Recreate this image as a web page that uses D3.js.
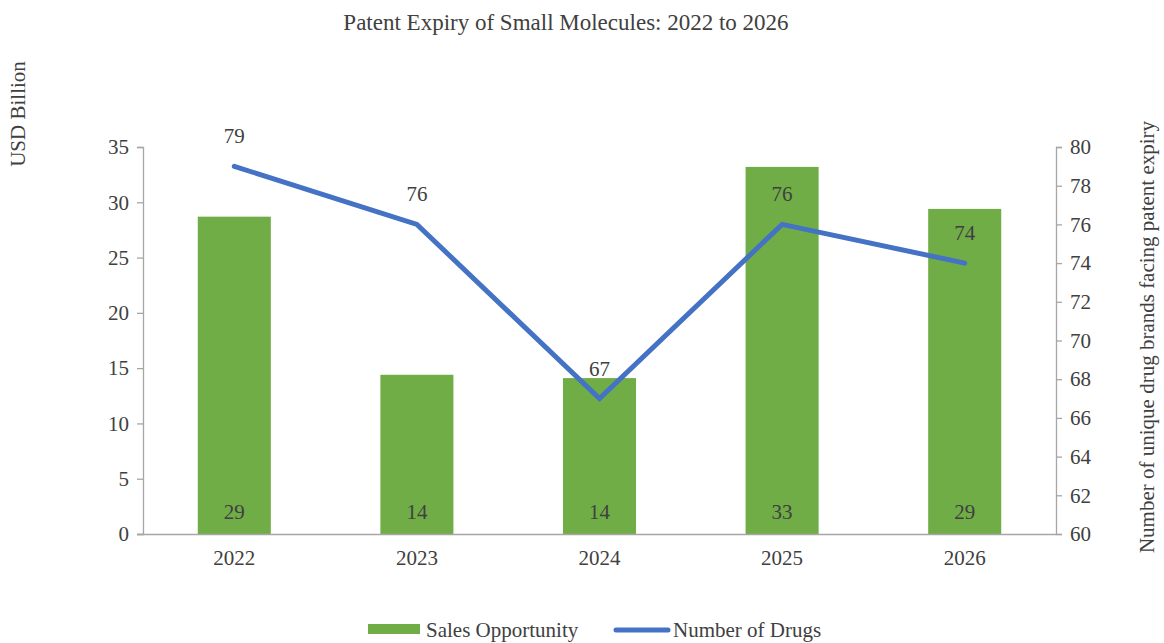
<!DOCTYPE html>
<html>
<head>
<meta charset="utf-8">
<script src="https://cdn.jsdelivr.net/npm/d3@7"></script>
<style>
body{margin:0;background:#fff;}
text{font-family:'Liberation Serif','Times New Roman',serif;fill:#404040;}
</style>
</head>
<body>
<div id="chart"></div>
<script>
var years=['2022','2023','2024','2025','2026'];
var sales=[28.7,14.4,14.1,33.2,29.4];	// USD Billion (bar heights)
var salesLabels=['29','14','14','33','29'];
var drugs=[79,76,67,76,74];	// number of drugs
var leftTicks=[0,5,10,15,20,25,30,35];
var rightTicks=[60,62,64,66,68,70,72,74,76,78,80];

var W=1164,H=643,
	mLeft=143,mRight=1056,mTop=147,mBottom=534,
	green='#70AD47',blue='#4472C4',axisColor='#a6a6a6',fs=21;

var svg=d3.select('#chart').append('svg').attr('width',W).attr('height',H);

var x=d3.scaleBand().domain(years).range([mLeft,mRight]).paddingInner(0.6).paddingOuter(0.3);
var xc=function(d){return x(d)+x.bandwidth()/2};
var yL=d3.scaleLinear().domain([0,35]).range([mBottom,mTop]);
var yR=d3.scaleLinear().domain([60,80]).range([mBottom,mTop]);

// title
svg.append('text').attr('x',566).attr('y',30).attr('text-anchor','middle')
	.attr('font-size',23).text('Patent Expiry of Small Molecules: 2022 to 2026');

// bars
svg.append('g').selectAll('rect').data(sales).enter().append('rect')
	.attr('x',function(d,i){return x(years[i])})
	.attr('y',function(d){return yL(d)})
	.attr('width',x.bandwidth())
	.attr('height',function(d){return mBottom-yL(d)})
	.attr('fill',green);

// axes
var gL=svg.append('g').attr('transform','translate('+mLeft+',0)')
	.call(d3.axisLeft(yL).tickValues(leftTicks).tickSize(6).tickPadding(8));
var gR=svg.append('g').attr('transform','translate('+mRight+',0)')
	.call(d3.axisRight(yR).tickValues(rightTicks).tickSize(6).tickPadding(8));
var gB=svg.append('g').attr('transform','translate(0,'+mBottom+')')
	.call(d3.axisBottom(x).tickSize(0).tickPadding(16));
[gL,gR,gB].forEach(function(g){
	g.selectAll('path.domain').attr('stroke',axisColor).attr('stroke-width',1.3);
	g.selectAll('line').attr('stroke',axisColor).attr('stroke-width',1.3);
	g.selectAll('text').attr('font-size',fs).attr('fill','#404040')
		.attr('font-family',"'Liberation Serif','Times New Roman',serif");
});
gB.select('path.domain').attr('d','M'+(mLeft-6)+',0.5H'+mRight);

// bar labels
svg.append('g').selectAll('text').data(salesLabels).enter().append('text')
	.attr('x',function(d,i){return xc(years[i])})
	.attr('y',mBottom-15)
	.attr('text-anchor','middle').attr('font-size',fs)
	.text(function(d){return d});

// line
var line=d3.line().x(function(d,i){return xc(years[i])}).y(function(d){return yR(d)});
svg.append('path').datum(drugs).attr('d',line)
	.attr('fill','none').attr('stroke',blue).attr('stroke-width',5)
	.attr('stroke-linecap','round').attr('stroke-linejoin','miter');

svg.append('g').selectAll('text').data(drugs).enter().append('text')
	.attr('x',function(d,i){return xc(years[i])})
	.attr('y',function(d){return yR(d)-23})
	.attr('text-anchor','middle').attr('font-size',fs)
	.text(function(d){return d});

// axis titles
svg.append('text').attr('transform','translate(25,114) rotate(-90)')
	.attr('text-anchor','middle').attr('font-size',fs).text('USD Billion');
svg.append('text').attr('transform','translate(1154,337) rotate(-90)')
	.attr('text-anchor','middle').attr('font-size',fs).text('Number of unique drug brands facing patent expiry');

// legend
var lg=svg.append('g');
lg.append('rect').attr('x',368).attr('y',624).attr('width',52).attr('height',10).attr('fill',green);
lg.append('text').attr('x',426).attr('y',637).attr('font-size',fs).text('Sales Opportunity');
lg.append('line').attr('x1',616).attr('x2',668).attr('y1',630).attr('y2',630)
	.attr('stroke',blue).attr('stroke-width',5).attr('stroke-linecap','round');
lg.append('text').attr('x',673).attr('y',637).attr('font-size',fs).text('Number of Drugs');
</script>
</body>
</html>
